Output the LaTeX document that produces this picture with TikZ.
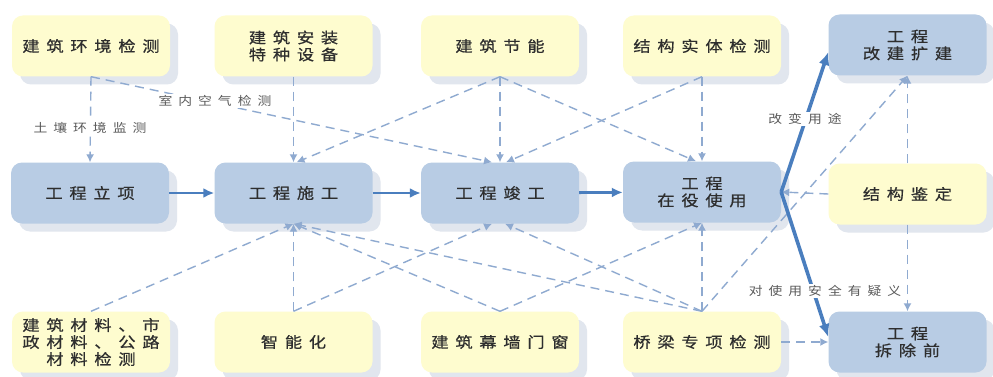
\documentclass[tikz,border=0pt]{standalone}
\usepackage{fontspec}
\usetikzlibrary{shadows,arrows.meta}
\newfontfamily\cjk[FakeStretch=1.15,LetterSpace=45,FakeBold=0.6]{Noto Sans CJK SC}
\newfontfamily\cjklab[FakeStretch=1.15,LetterSpace=50]{Noto Sans CJK SC}
\definecolor{yfill}{HTML}{FEFCCF}
\definecolor{bfill}{HTML}{B8CCE4}
\definecolor{shd}{HTML}{E1E6EE}
\definecolor{dcol}{HTML}{8FAAD0}
\definecolor{scol}{HTML}{4A7EBE}
\definecolor{txt}{HTML}{2E2E2E}
\definecolor{ltxt}{HTML}{5A5A5A}
\begin{document}
\begin{tikzpicture}[x=1pt,y=-1pt,
  box/.style={rounded corners=11pt, minimum width=158pt, minimum height=61pt, align=center,
    font=\cjk\fontsize{15}{17}\selectfont, text=txt, inner sep=2pt,
    general shadow={fill=shd, shadow xshift=8pt, shadow yshift=-8pt}},
  ybox/.style={box, fill=yfill},
  bbox/.style={box, fill=bfill},
  dline/.style={draw=dcol, line width=1.4pt, dash pattern=on 9pt off 6pt, -{Latex[length=8pt,width=8pt]}},
  sline/.style={draw=scol, line width=2.8pt, -{Latex[length=11pt,width=10pt]}},
  tline/.style={draw=scol, line width=3.6pt, -{Latex[length=13pt,width=11pt]}},
  lab/.style={fill=white, inner sep=1.5pt, font=\cjklab\fontsize{12}{14}\selectfont, text=ltxt}]
\useasboundingbox (0,0) rectangle (993,377);
\fill[white] (0,0) rectangle (993,377);
% top row
\node[ybox] (envA) at (91,46) {建筑环境检测};
\node[ybox] (anzhuang) at (293.5,46) {建筑安装\\特种设备};
\node[ybox] (jieneng) at (500,46) {建筑节能};
\node[ybox] (jiegou) at (702,46) {结构实体检测};
\node[bbox] (gaijian) at (907.5,45) {工程\\改建扩建};
% middle row
\node[bbox] (lixiang) at (90,193) {工程立项};
\node[bbox] (shigong) at (293.5,193) {工程施工};
\node[bbox] (jungong) at (500,193) {工程竣工};
\node[bbox] (zaiyi) at (702,192) {工程\\在役使用};
\node[ybox] (jianding) at (907.5,194) {结构鉴定};
% bottom row
\node[ybox] (cailiao) at (91,342) {建筑材料、市\\政材料、公路\\材料检测};
\node[ybox] (zhineng) at (293.5,342) {智能化};
\node[ybox] (muqiang) at (500,342) {建筑幕墙门窗};
\node[ybox] (qiaoliang) at (702,342) {桥梁专项检测};
\node[bbox] (chaichu) at (907.5,342) {工程\\拆除前};
% dashed connectors, top
\draw[dline] (envA.south) -- (lixiang.north);
\draw[dline] (envA.south) -- ([xshift=-8pt]jungong.north);
\draw[dline] (anzhuang.south) -- (shigong.north);
\draw[dline] (jieneng.south) -- ([xshift=3pt]shigong.north);
\draw[dline] (jieneng.south) -- (jungong.north);
\draw[dline] (jieneng.south) -- ([xshift=-6pt]zaiyi.north);
\draw[dline] (jiegou.south) -- ([xshift=6pt]jungong.north);
\draw[dline] (jiegou.south) -- (zaiyi.north);
% dashed connectors, bottom
\draw[dline] (cailiao.north) -- (shigong.south);
\draw[dline] (zhineng.north) -- (shigong.south);
\draw[dline] (zhineng.north) -- ([xshift=-8pt]jungong.south);
\draw[dline] (muqiang.north) -- (shigong.south);
\draw[dline] (muqiang.north) -- (zaiyi.south);
\draw[dline] (qiaoliang.north) -- (shigong.south);
\draw[dline] (qiaoliang.north) -- ([xshift=5pt]jungong.south);
\draw[dline] (qiaoliang.north) -- (zaiyi.south);
\draw[dline] (qiaoliang.north) -- (gaijian.south);
\draw[dline] (qiaoliang.east) -- (chaichu.west);
% dashed connectors, structure assessment
\draw[dline] (jianding.north) -- (gaijian.south);
\draw[dline] (jianding.south) -- (chaichu.north);
\draw[dline] (jianding.west) -- (zaiyi.east);
% solid process arrows
\draw[sline] (lixiang) -- (shigong);
\draw[sline] (shigong) -- (jungong);
\draw[sline] (jungong) -- (zaiyi);
\draw[tline] (zaiyi.east) -- ([yshift=-7pt]gaijian.west);
\draw[tline] (zaiyi.east) -- ([yshift=5pt]chaichu.west);
% labels
\node[lab] (l1) at (90,128) {土壤环境监测};
\node[lab] (l2) at (215,101) {室内空气检测};
\node[lab] (l3) at (805,119) {改变用途};
\node[lab] (l4) at (825,291) {对使用安全有疑义};
\end{tikzpicture}
\end{document}
